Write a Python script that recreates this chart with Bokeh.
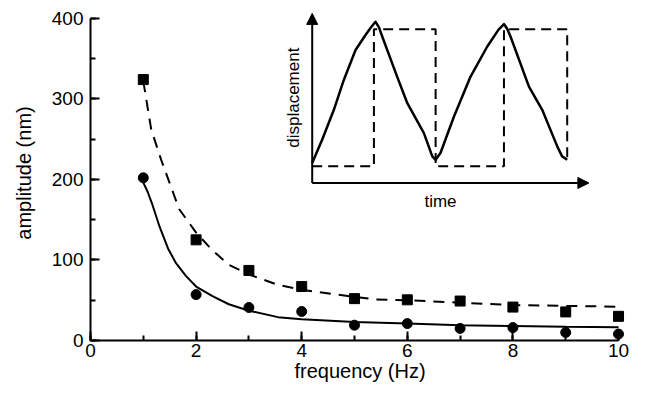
from bokeh.plotting import figure
from bokeh.models import Range1d, SingleIntervalTicker, Label, Arrow, NormalHead
from bokeh.embed import file_html
from bokeh.resources import INLINE
import math

# ---- main data ----
freq = [1, 2, 3, 4, 5, 6, 7, 8, 9, 10]
amp_square = [324, 125, 87, 67, 52, 50.5, 49, 41.5, 35.5, 30]
amp_circle = [202, 57, 41, 36, 19, 21, 15, 16, 10, 8]

# fitted curves
fit_dash_x = [1, 1.15, 1.34, 1.68, 2, 2.31, 2.62, 3, 3.55, 4, 5, 5.4, 6, 7, 8, 9, 10]
fit_dash_y = [322, 262, 224, 163, 134, 112, 94, 82, 69, 63, 54, 51, 50, 47, 44, 43, 42]
fit_solid_x = [1, 1.08, 1.16, 1.31, 1.47, 1.62, 1.81, 2, 2.31, 2.62, 3, 3.55, 4, 5, 6, 7, 8, 9, 10]
fit_solid_y = [196, 185, 171, 141, 114, 96, 80, 67, 55, 45, 37, 29, 26.5, 23, 21, 19, 18, 17, 16.5]

# ---- inset data (time / displacement, arbitrary units) ----
tri_t = [0, 0.039, 0.085, 0.124, 0.170, 0.209, 0.230, 0.248, 0.262, 0.275, 0.333, 0.373, 0.438, 0.471, 0.484,
         0.503, 0.556, 0.621, 0.686, 0.730, 0.752, 0.765, 0.778, 0.850, 0.902, 0.961, 0.980, 1.0]
tri_d = [0.124, 0.268, 0.454, 0.639, 0.825, 0.918, 0.965, 1.0, 0.965, 0.907, 0.660, 0.495, 0.309, 0.165, 0.144,
         0.186, 0.412, 0.660, 0.845, 0.950, 0.986, 0.955, 0.907, 0.598, 0.454, 0.227, 0.165, 0.144]
sq_t = [0, 0.242, 0.242, 0.484, 0.484, 0.752, 0.752, 1.0, 1.0]
sq_d = [0.103, 0.103, 0.953, 0.953, 0.103, 0.103, 0.953, 0.953, 0.144]

FONT = "Liberation Sans"

p = figure(width=629, height=384, output_backend="svg", toolbar_location=None,
           x_range=Range1d(0, 10.208), y_range=Range1d(0, 416),
           min_border_left=90, min_border_right=0, min_border_top=5, min_border_bottom=40)
p.outline_line_color = None
p.grid.visible = False
p.background_fill_color = "white"
p.border_fill_color = "white"

p.extra_x_ranges = {"inset": Range1d(-0.8694, 1.2443)}
p.extra_y_ranges = {"inset": Range1d(-0.9773, 1.1010)}

for ax in (p.xaxis[0], p.yaxis[0]):
    ax.axis_line_width = 2
    ax.major_tick_line_width = 2
    ax.minor_tick_line_width = 2
    ax.major_tick_in = 9
    ax.major_tick_out = 0
    ax.minor_tick_in = 5
    ax.minor_tick_out = 0
    ax.major_label_text_font = FONT
    ax.major_label_text_font_size = "19px"
    ax.major_label_text_color = "black"
    ax.axis_label_text_font = FONT
    ax.axis_label_text_font_size = "20px"
    ax.axis_label_text_font_style = "normal"
    ax.axis_label_text_color = "black"

p.xaxis.ticker = SingleIntervalTicker(interval=2, num_minor_ticks=2)
p.yaxis.ticker = SingleIntervalTicker(interval=100, num_minor_ticks=2)
p.xaxis.bounds = (0, 10)
p.yaxis.bounds = (0, 400)
p.xaxis.axis_label = "frequency (Hz)"
p.yaxis.axis_label = "amplitude (nm)"
p.xaxis.major_label_standoff = 3
p.xaxis.axis_label_standoff = 0
p.yaxis.major_label_standoff = 7
p.yaxis.axis_label_standoff = 14

# main curves and points
p.line(fit_dash_x, fit_dash_y, line_color="black", line_width=2, line_dash="11 8")
p.line(fit_solid_x, fit_solid_y, line_color="black", line_width=2)
p.scatter(freq, amp_square, marker="square", size=10, color="black")
p.scatter(freq, amp_circle, marker="circle", size=10, color="black")

# inset
p.line(sq_t, sq_d, x_range_name="inset", y_range_name="inset",
       line_color="black", line_width=2, line_dash="10 6")
p.line(tri_t, tri_d, x_range_name="inset", y_range_name="inset",
       line_color="black", line_width=2.5, line_join="round")
p.add_layout(Arrow(end=NormalHead(size=11, fill_color="black", line_color="black"),
                   x_start=0, y_start=0, x_end=0, y_end=1.052,
                   x_range_name="inset", y_range_name="inset",
                   line_color="black", line_width=2))
p.add_layout(Arrow(end=NormalHead(size=11, fill_color="black", line_color="black"),
                   x_start=0, y_start=0, x_end=1.085, y_end=0,
                   x_range_name="inset", y_range_name="inset",
                   line_color="black", line_width=2))
p.add_layout(Label(x=0.503, y=-0.116, text="time", x_range_name="inset", y_range_name="inset",
                   text_align="center", text_baseline="middle",
                   text_font=FONT, text_font_size="17px", text_color="black"))
p.add_layout(Label(x=-0.075, y=0.529, text="displacement", angle=math.pi / 2,
                   x_range_name="inset", y_range_name="inset",
                   text_align="center", text_baseline="middle",
                   text_font=FONT, text_font_size="17px", text_color="black"))

open("out.html", "w").write(file_html(p, INLINE))
